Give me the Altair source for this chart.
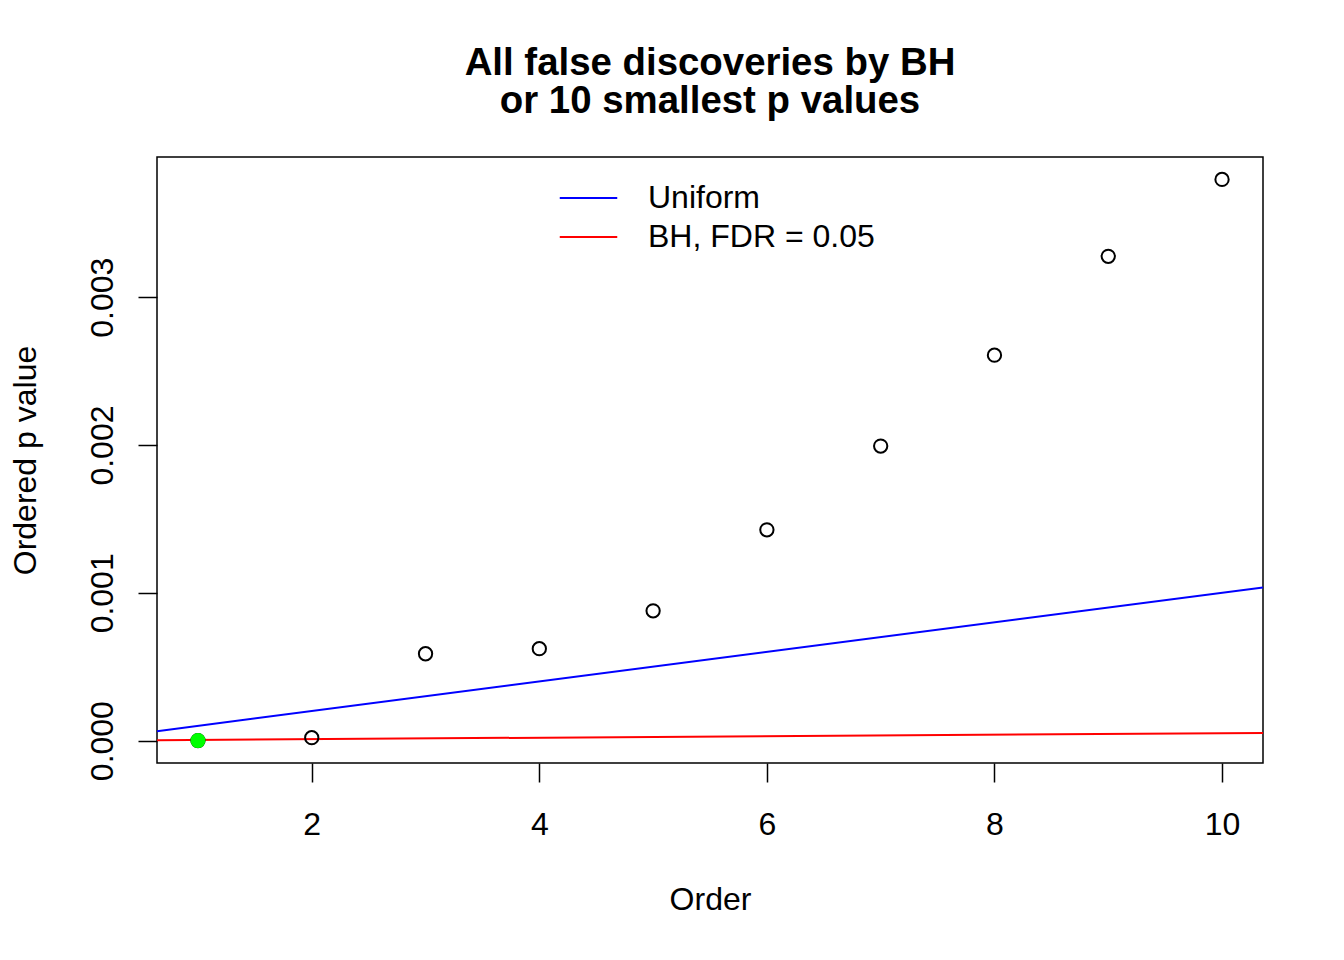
import altair as alt
import pandas as pd

FONT = "Liberation Sans"

# ---- data ----
order = [1, 2, 3, 4, 5, 6, 7, 8, 9, 10]
p_values = [0.0000005, 0.00002, 0.000588, 0.000622, 0.000878,
            0.001426, 0.001993, 0.002608, 0.003277, 0.003797]
discovered = [True, False, False, False, False, False, False, False, False, False]
n_tests = 10000
fdr = 0.05
line_names = ["Uniform", "BH, FDR = 0.05"]
line_colors = ["#0000FF", "#FF0000"]
x_ticks = [2, 4, 6, 8, 10]
y_ticks = [0.0, 0.001, 0.002, 0.003]
title_lines = ["All false discoveries by BH", "or 10 smallest p values"]


def r_range(lo, hi):
    d = (hi - lo) * 0.04
    return [lo - d, hi + d]


x_dom = r_range(min(order), max(order))
y_dom = r_range(min(p_values), max(p_values))

pts = pd.DataFrame({"order": order, "p": p_values, "disc": discovered})
lines = pd.DataFrame({
    "order": [x_dom[0], x_dom[1], x_dom[0], x_dom[1]],
    "p": [x_dom[0] / n_tests, x_dom[1] / n_tests,
          x_dom[0] * fdr / n_tests, x_dom[1] * fdr / n_tests],
    "series": [line_names[0]] * 2 + [line_names[1]] * 2,
})

xs = alt.Scale(domain=x_dom, nice=False, zero=False)
ys = alt.Scale(domain=y_dom, nice=False, zero=False)

xaxis = alt.Axis(values=x_ticks, format="d", title="Order", domain=False, grid=False,
                 tickSize=19, tickWidth=1.5, tickColor="black",
                 labelFontSize=32, labelFont=FONT, labelColor="black",
                 labelBaseline="alphabetic", labelPadding=52, labelFlush=False,
                 labelOverlap=False,
                 titleFontSize=32, titleFont=FONT, titleFontWeight="normal",
                 titleColor="black", titleBaseline="alphabetic", titleY=146)

yaxis = alt.Axis(values=y_ticks, format=".3f", title="Ordered p value",
                 domain=False, grid=False,
                 tickSize=19, tickWidth=1.5, tickColor="black",
                 labelFontSize=32, labelFont=FONT, labelColor="black",
                 labelAngle=270, labelAlign="center", labelBaseline="alphabetic",
                 labelPadding=25.5, labelFlush=False, labelOverlap=False,
                 titleFontSize=32, titleFont=FONT, titleFontWeight="normal",
                 titleColor="black", titleAngle=270, titleAlign="center",
                 titleBaseline="alphabetic", titleX=-122, titleY=303)

legend = alt.Legend(title=None, orient="none", legendX=415.5, legendY=25,
                    symbolType="M-2.5,0H2.5", symbolSize=529,
                    symbolStrokeWidth=2, labelFontSize=32, labelFont=FONT,
                    labelColor="black", labelOffset=43.5, rowPadding=7,
                    padding=0, labelLimit=600)

line_layer = alt.Chart(lines).mark_line(strokeWidth=2, clip=True).encode(
    x=alt.X("order:Q", scale=xs, axis=xaxis),
    y=alt.Y("p:Q", scale=ys, axis=yaxis),
    color=alt.Color("series:N",
                    scale=alt.Scale(domain=line_names, range=line_colors),
                    sort=line_names, legend=legend),
)

open_pts = alt.Chart(pts).mark_point(shape="circle", filled=False, size=177,
                                     strokeWidth=2, color="black",
                                     opacity=1).encode(
    x=alt.X("order:Q", scale=xs),
    y=alt.Y("p:Q", scale=ys),
)

green_pts = alt.Chart(pts).transform_filter(alt.datum.disc).mark_circle(
    size=227, color="#00FF00", opacity=1).encode(
    x=alt.X("order:Q", scale=xs),
    y=alt.Y("p:Q", scale=ys),
)

chart = alt.layer(line_layer, open_pts, green_pts).properties(
    width=1106, height=606,
    background="white",
    autosize=alt.AutoSizeParams(type="none"),
    padding={"left": 149, "top": 149, "right": 65, "bottom": 180},
    title=alt.TitleParams(text=title_lines, fontSize=38.4, font=FONT,
                          fontWeight="bold", color="black", anchor="middle",
                          lineHeight=38, offset=6, baseline="alphabetic"),
).configure_view(stroke="black", strokeWidth=1.5)

chart.save("out.html", embed_options={"renderer": "svg", "actions": False})
